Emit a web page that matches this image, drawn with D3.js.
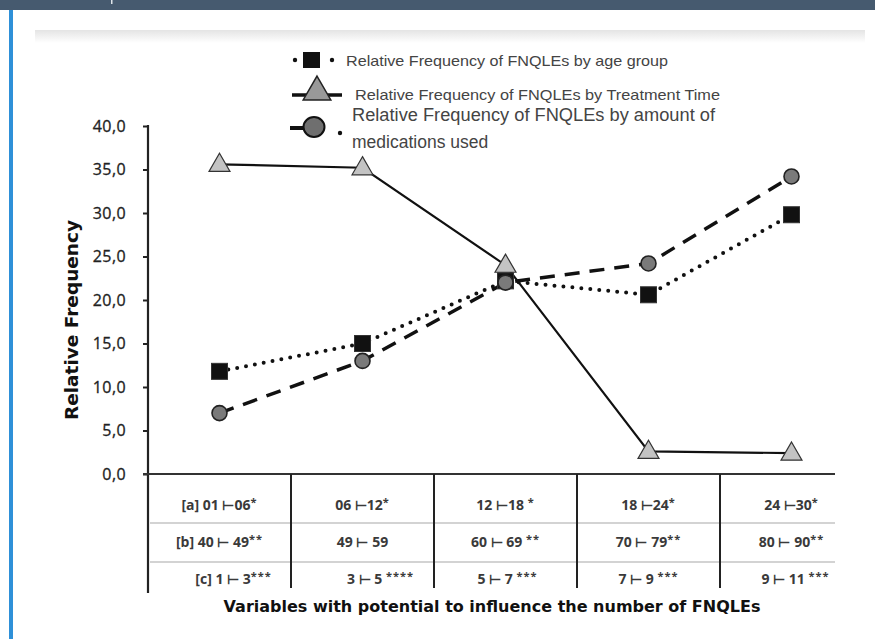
<!DOCTYPE html>
<html><head><meta charset="utf-8">
<script src="https://cdn.jsdelivr.net/npm/d3@7"></script>
<style>
html,body{margin:0;padding:0;background:#fff;}
svg{display:block;}
</style></head>
<body>
<svg id="chart" width="875" height="639"></svg>
<script>
// ---- data ----
const categories = ["c1","c2","c3","c4","c5"];
const rowA = [["[a] 01 ⊢06","*"],["06 ⊢12","*"],["12 ⊢18  ","*"],["18 ⊢24","*"],["24 ⊢30","*"]];
const rowB = [["[b] 40 ⊢ 49","**"],["49 ⊢ 59",""],["60 ⊢ 69 ","**"],["70 ⊢ 79","**"],["80 ⊢ 90","**"]];
const rowC = [["[c] 1 ⊢ 3","***"],["3 ⊢ 5 ","****"],["5 ⊢ 7 ","***"],["7 ⊢ 9 ","***"],["9 ⊢ 11 ","***"]];
const ageGroup      = [11.8, 15.0, 22.2, 20.6, 29.8];
const treatmentTime = [35.6, 35.2, 24.0, 2.6, 2.4];
const medications   = [7.0, 13.0, 22.0, 24.2, 34.2];
const yTicks = [0,5,10,15,20,25,30,35,40];
const legendLabels = [
  "Relative Frequency of FNQLEs by age group",
  "Relative Frequency of FNQLEs by Treatment Time",
  "Relative Frequency of FNQLEs by amount of",
  "medications used"
];
const xTitle = "Variables with potential to influence the number of FNQLEs";
const yTitle = "Relative Frequency";

// ---- page chrome ----
const svg = d3.select("#chart");
const defs = svg.append("defs");
const g1 = defs.append("linearGradient").attr("id","topfade").attr("x1",0).attr("y1",0).attr("x2",0).attr("y2",1);
g1.append("stop").attr("offset","0%").attr("stop-color","#e4e4e4");
g1.append("stop").attr("offset","100%").attr("stop-color","#ffffff");
svg.append("rect").attr("x",0).attr("y",0).attr("width",875).attr("height",10).attr("fill","#465a6f");
svg.append("rect").attr("x",111).attr("y",0).attr("width",1.5).attr("height",4).attr("fill","#dfe5ea");
svg.append("rect").attr("x",9).attr("y",10).attr("width",4).attr("height",629).attr("fill","#2e90d8");
svg.append("rect").attr("x",35).attr("y",30).attr("width",830).attr("height",13).attr("fill","url(#topfade)");

// ---- scales ----
const x = d3.scaleBand().domain(categories).range([148, 863]).padding(0);
const y = d3.scaleLinear().domain([0,40]).range([474, 126]);
const cx = i => x(categories[i]) + x.bandwidth()/2;

// ---- y axis ----
const yAxis = d3.axisLeft(y).tickValues(yTicks).tickSize(5).tickPadding(17)
  .tickFormat(d => d3.format(".1f")(d).replace(".", ","));
const ya = svg.append("g").attr("transform","translate(148,0)").call(yAxis);
ya.select(".domain").remove();
ya.selectAll(".tick line").attr("stroke","#222").attr("stroke-width",2);
ya.selectAll(".tick text").attr("font-family","'Open Sans', sans-serif").attr("font-size",16)
  .attr("fill","#222").attr("stroke","#222").attr("stroke-width",0.3).attr("letter-spacing","0.4");
svg.append("line").attr("x1",148).attr("x2",148).attr("y1",y(40)-1).attr("y2",593)
  .attr("stroke","#222").attr("stroke-width",2.2);

// x baseline
svg.append("line").attr("x1",143).attr("x2",835).attr("y1",y(0)).attr("y2",y(0))
  .attr("stroke","#333").attr("stroke-width",2);

// ---- table ----
const rowLineY = [523, 562];
rowLineY.forEach(v => svg.append("line").attr("x1",150).attr("x2",835).attr("y1",v).attr("y2",v)
  .attr("stroke","#c4c4c4").attr("stroke-width",1.5));
categories.slice(1).forEach(c => {
  svg.append("line").attr("x1",x(c)).attr("x2",x(c)).attr("y1",y(0)).attr("y2",588)
    .attr("stroke","#222").attr("stroke-width",2);
});
const rows = [{data:rowA, y:510, dx:[0,0,0,0,0]},
              {data:rowB, y:547, dx:[0,0,0,0,0]},
              {data:rowC, y:584, dx:[14,18,2,0,4]}];
rows.forEach(r => {
  r.data.forEach((d,i) => {
    const t = svg.append("text").attr("x", cx(i) + r.dx[i]).attr("y", r.y)
      .attr("text-anchor","middle").attr("font-family","'Open Sans', sans-serif")
      .attr("font-weight",700).attr("font-size",14).attr("fill","#3a3a3a");
    t.append("tspan").text(d[0]);
    if (d[1]) t.append("tspan").attr("dy",-4).attr("font-size",11).attr("letter-spacing","1").text(d[1]);
  });
});

// axis titles
svg.append("text").attr("x",492).attr("y",612).attr("text-anchor","middle")
  .attr("font-family","'DejaVu Sans', sans-serif").attr("font-weight",700).attr("font-size",16)
  .attr("fill","#111").text(xTitle);
svg.append("text").attr("transform","translate(78,320) rotate(-90)").attr("text-anchor","middle")
  .attr("font-family","'DejaVu Sans', sans-serif").attr("font-weight",700).attr("font-size",18.5)
  .attr("fill","#111").text(yTitle);

// ---- lines ----
const line = d3.line().x((d,i) => cx(i)).y(d => y(d));
svg.append("path").datum(treatmentTime).attr("d",line).attr("fill","none")
  .attr("stroke","#111").attr("stroke-width",2.2);
svg.append("path").datum(medications).attr("d",line).attr("fill","none")
  .attr("stroke","#111").attr("stroke-width",3.5).attr("stroke-dasharray","15 10");
svg.append("path").datum(ageGroup).attr("d",line).attr("fill","none")
  .attr("stroke","#111").attr("stroke-width",4).attr("stroke-linecap","round")
  .attr("stroke-dasharray","0 9");

// ---- markers ----
const tri = d3.symbol().type(d3.symbolTriangle).size(190);
svg.selectAll(".tri").data(treatmentTime).join("path").attr("class","tri")
  .attr("d",tri).attr("transform",(d,i)=>`translate(${cx(i)},${y(d)+1})`)
  .attr("fill","#c3c3c3").attr("stroke","#333").attr("stroke-width",1.2);
svg.selectAll(".sq").data(ageGroup).join("rect").attr("class","sq")
  .attr("x",(d,i)=>cx(i)-8).attr("y",d=>y(d)-8).attr("width",16).attr("height",16)
  .attr("fill","#111").attr("stroke","#333").attr("stroke-width",1);
svg.selectAll(".circ").data(medications).join("circle").attr("class","circ")
  .attr("cx",(d,i)=>cx(i)).attr("cy",d=>y(d)).attr("r",7.5)
  .attr("fill","#7a7a7a").attr("stroke","#222").attr("stroke-width",1.6);

// ---- legend ----
const lg = svg.append("g");
// entry 1
lg.append("circle").attr("cx",295).attr("cy",60).attr("r",2.2).attr("fill","#111");
lg.append("circle").attr("cx",332).attr("cy",60).attr("r",2.2).attr("fill","#111");
lg.append("rect").attr("x",303).attr("y",52).attr("width",17).attr("height",16).attr("fill","#111");
lg.append("text").attr("x",346).attr("y",66).attr("font-family","'Liberation Sans', Arial, sans-serif")
  .attr("font-size",14.5).attr("fill","#444").attr("textLength",322).attr("lengthAdjust","spacingAndGlyphs")
  .text(legendLabels[0]);
// entry 2
lg.append("line").attr("x1",292).attr("x2",342).attr("y1",95).attr("y2",95).attr("stroke","#111").attr("stroke-width",3.5);
lg.append("path").attr("d",d3.symbol().type(d3.symbolTriangle).size(330))
  .attr("transform","translate(317,92)").attr("fill","#999").attr("stroke","#222").attr("stroke-width",1.5);
lg.append("text").attr("x",355).attr("y",100).attr("font-family","'Liberation Sans', Arial, sans-serif")
  .attr("font-size",14.5).attr("fill","#444").attr("textLength",365).attr("lengthAdjust","spacingAndGlyphs")
  .text(legendLabels[1]);
// entry 3
lg.append("line").attr("x1",290).attr("x2",306).attr("y1",128).attr("y2",128).attr("stroke","#111").attr("stroke-width",4);
lg.append("ellipse").attr("cx",314).attr("cy",127).attr("rx",10.5).attr("ry",10)
  .attr("fill","#6f6f6f").attr("stroke","#111").attr("stroke-width",2);
lg.append("circle").attr("cx",340).attr("cy",133).attr("r",2.2).attr("fill","#111");
lg.append("text").attr("x",352).attr("y",121).attr("font-family","'Liberation Sans', Arial, sans-serif")
  .attr("font-size",17.5).attr("fill","#444").attr("textLength",363).attr("lengthAdjust","spacingAndGlyphs")
  .text(legendLabels[2]);
lg.append("text").attr("x",352).attr("y",148).attr("font-family","'Liberation Sans', Arial, sans-serif")
  .attr("font-size",17.5).attr("fill","#444")
  .text(legendLabels[3]);
</script>
</body></html>
